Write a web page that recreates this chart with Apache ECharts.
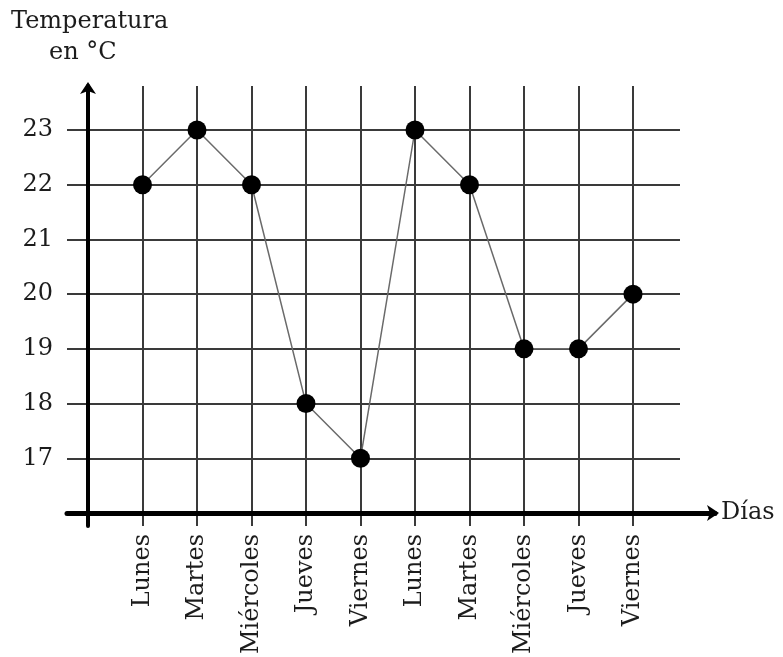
<!DOCTYPE html>
<html>
<head>
<meta charset="utf-8">
<script src="https://cdn.jsdelivr.net/npm/echarts@6/dist/echarts.min.js"></script>
<style>html,body{margin:0;padding:0;background:#fff}#c{width:783px;height:657px}</style>
</head>
<body>
<div id="c"></div>
<script>
const categories = ['Lunes','Martes','Miércoles','Jueves','Viernes','Lunes','Martes','Miércoles','Jueves','Viernes'];
const temps = [22, 23, 22, 18, 17, 23, 22, 19, 19, 20];
const yTicks = [17, 18, 19, 20, 21, 22, 23];

const FONT = 'DejaVu Serif';
const TXT = '#1c1c1c';
const GRID = '#3a3a3a';

const chart = echarts.init(document.getElementById('c'));
const seriesData = temps.map((v, i) => [i + 1, v]);

chart.setOption({
  animation: false,
  backgroundColor: '#fff',
  graphic: [{
    type: 'text', left: 11, top: 10,
    style: { text: 'Temperatura', fill: TXT, font: '24px "DejaVu Serif"' }
  }, {
    type: 'text', left: 49, top: 41,
    style: { text: 'en °C', fill: TXT, font: '24px "DejaVu Serif"' }
  }],
  grid: [
    { left: 67, right: 68, top: 130, bottom: 144 },
    { left: 67, right: 103, top: 130, bottom: 144 },
    { left: 88, right: 150, top: 86, bottom: 129 }
  ],
  xAxis: [
    { gridIndex: 0, type: 'value', min: -21 / 54.5, max: 627 / 54.5,
      name: 'Días', nameLocation: 'end', nameGap: 6,
      nameTextStyle: { fontFamily: FONT, fontSize: 24, color: TXT, verticalAlign: 'middle', padding: [0, 0, 4, 0] },
      axisLine: { show: true, lineStyle: { color: '#000', width: 5 }, symbol: ['none', 'arrow'], symbolSize: [12, 12], symbolOffset: [0, 4] },
      axisTick: { show: false }, axisLabel: { show: false }, splitLine: { show: false } },
    { gridIndex: 1, type: 'value', min: 0, max: 10, show: false },
    { gridIndex: 2, type: 'value', min: 0, max: 10, interval: 1,
      axisLine: { show: false }, axisTick: { show: false },
      axisLabel: { show: true, rotate: 90, margin: 8, fontFamily: FONT, fontSize: 24, color: TXT,
        formatter: v => (v >= 1 && v <= categories.length) ? categories[v - 1] : '' },
      splitLine: { show: true, lineStyle: { color: GRID, width: 2 } } }
  ],
  yAxis: [
    { gridIndex: 0, type: 'value', min: 16, max: 23, interval: 1,
      axisLine: { show: false }, axisTick: { show: false }, splitLine: { show: false },
      axisLabel: { margin: 14, fontFamily: FONT, fontSize: 24, color: TXT,
        formatter: v => yTicks.indexOf(v) >= 0 ? String(v) : '' } },
    { gridIndex: 1, type: 'value', min: 16, max: 23, interval: 1,
      axisLine: { show: false }, axisTick: { show: false }, axisLabel: { show: false },
      splitLine: { show: true, lineStyle: { color: GRID, width: 2 } } },
    { gridIndex: 2, type: 'value', min: 0, max: 1,
      axisLine: { show: true, onZero: false, lineStyle: { color: '#000', width: 4 }, symbol: ['none', 'arrow'], symbolSize: [12, 12], symbolOffset: [0, 4] },
      axisTick: { show: false }, axisLabel: { show: false }, splitLine: { show: false } }
  ],
  series: [{
    type: 'line', xAxisIndex: 0, yAxisIndex: 0, data: seriesData,
    symbol: 'circle', symbolSize: 19,
    lineStyle: { color: '#6a6a6a', width: 1.5 },
    itemStyle: { color: '#000' },
    z: 10
  }]
});
</script>
</body>
</html>
